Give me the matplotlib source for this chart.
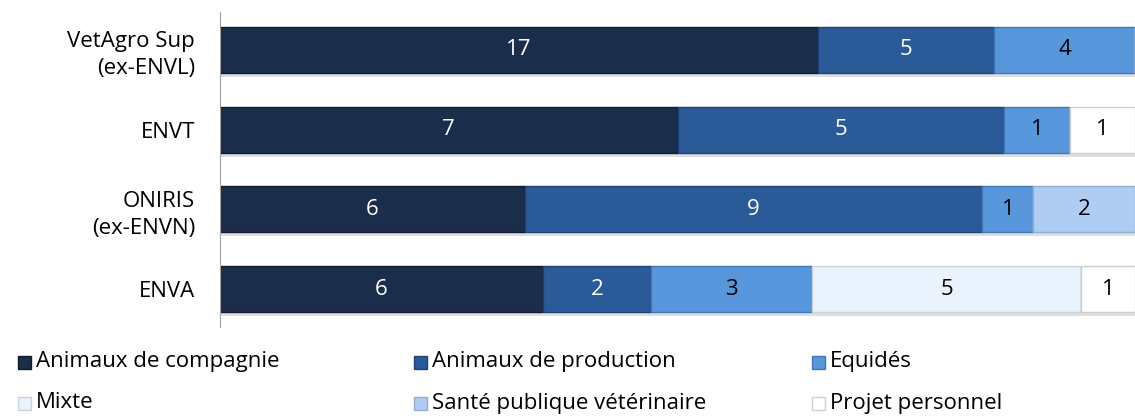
import numpy as np
import matplotlib.pyplot as plt
from matplotlib.patches import Rectangle

plt.rcParams['font.family'] = ['Open Sans', 'DejaVu Sans']

schools = ['VetAgro Sup\n(ex-ENVL)', 'ENVT', 'ONIRIS\n(ex-ENVN)', 'ENVA']
series = ['Animaux de compagnie', 'Animaux de production', 'Equidés',
          'Mixte', 'Santé publique vétérinaire', 'Projet personnel']
compagnie = [17, 7, 6, 6]
production = [5, 5, 9, 2]
equides = [4, 1, 1, 3]
mixte = [0, 0, 0, 5]
sante = [0, 0, 2, 0]
projet = [0, 1, 0, 1]

colors = ['#1a2d4a', '#2a5b98', '#5897dc', '#eaf3fd', '#afcdf2', '#ffffff']
edges = ['#101c2e', '#1d4275', '#3f77b8', '#c9d3de', '#8eaed6', '#d0d0d0']
txt_col = ['white', 'white', 'black', 'black', 'black', 'black']

data = np.array([compagnie, production, equides, mixte, sante, projet], dtype=float)
totals = data.sum(axis=0)
frac = data / totals

fig = plt.figure(figsize=(11.35, 4.18), dpi=100)
ax = fig.add_axes([220/1135, 1-327/418, 915/1135, 315/418])

y = np.arange(len(schools))
h = 0.575
left = np.zeros(len(schools))
for i, name in enumerate(series):
    # soft shadow under each bar
    ax.barh(y + 0.05, frac[i], h, left=left, color='#dedede', zorder=1)
    bars = ax.barh(y, frac[i], h, left=left, color=colors[i],
                   edgecolor=edges[i], linewidth=1, zorder=2)
    for j, b in enumerate(bars):
        if data[i, j] > 0:
            ax.text(left[j] + frac[i, j] / 2, y[j], f'{int(data[i, j])}',
                    ha='center', va='center', color=txt_col[i], fontsize=16, zorder=3)
    left += frac[i]

ax.set_xlim(0, 1)
ax.set_ylim(3.47, -0.47)
ax.set_yticks(y)
ax.set_yticklabels(schools, fontsize=16, linespacing=1.4)
ax.tick_params(axis='y', length=0, pad=18)
ax.set_xticks([])
for s in ['top', 'right', 'bottom']:
    ax.spines[s].set_visible(False)
ax.spines['left'].set_color('#a0a0a0')

# legend, 2 rows x 3 columns
col_x = [18, 414, 812]
row_y = [362, 403]
for i, name in enumerate(series):
    px = col_x[i % 3]
    py = row_y[i // 3]
    fig.add_artist(Rectangle((px / 1135, 1 - (py + 7) / 418), 13 / 1135, 13 / 418,
                             transform=fig.transFigure, facecolor=colors[i],
                             edgecolor=edges[i], linewidth=1))
    fig.text((px + 18) / 1135, 1 - py / 418, name, fontsize=16, va='center', ha='left')

fig.savefig('out.png', dpi=100)
